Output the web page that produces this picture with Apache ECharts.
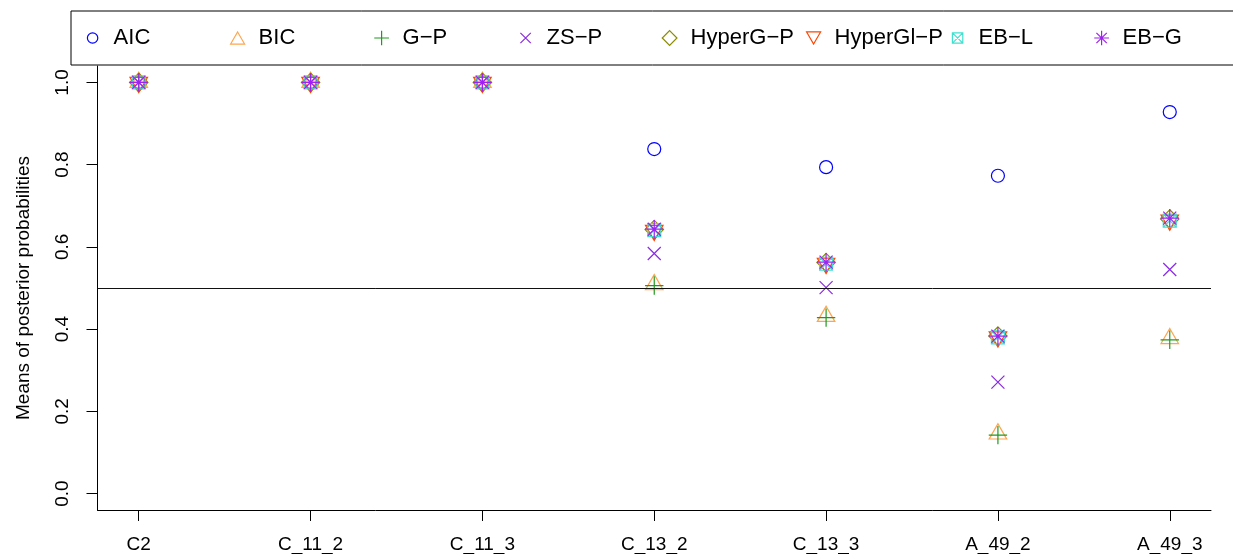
<!DOCTYPE html>
<html>
<head>
<meta charset="utf-8">
<script src="https://cdn.jsdelivr.net/npm/echarts@6/dist/echarts.min.js"></script>
<style>
  html, body { margin: 0; padding: 0; background: #fff; }
  #chart { width: 1233px; height: 554px; }
</style>
</head>
<body>
<div id="chart"></div>
<script>
// categories on the x axis
const categories = ['C2', 'C_11_2', 'C_11_3', 'C_13_2', 'C_13_3', 'A_49_2', 'A_49_3']
const yTicks = [0, 0.2, 0.4, 0.6, 0.8, 1.0]
const refLine = 0.5

// means of posterior probabilities per method
const aic      = [1, 1, 1, 0.838, 0.794, 0.773, 0.928]
const bic      = [1, 1, 1, 0.508, 0.431, 0.145, 0.377]
const gp       = [1, 1, 1, 0.506, 0.428, 0.142, 0.374]
const zsp      = [1, 1, 1, 0.584, 0.501, 0.271, 0.545]
const hyperGP  = [1, 1, 1, 0.642, 0.562, 0.383, 0.668]
const hyperGlP = [1, 1, 1, 0.640, 0.560, 0.381, 0.665]
const ebL      = [1, 1, 1, 0.641, 0.559, 0.380, 0.664]
const ebG      = [1, 1, 1, 0.643, 0.563, 0.383, 0.670]

const methods = ['AIC', 'BIC', 'G\u2212P', 'ZS\u2212P', 'HyperG\u2212P', 'HyperGl\u2212P', 'EB\u2212L', 'EB\u2212G']
const values = [aic, bic, gp, zsp, hyperGP, hyperGlP, ebL, ebG]

// R-like plotting characters (pch 1..8), unit = point radius
const R = 6.5
const S2 = Math.SQRT2
const pch = [
  { symbol: 'circle', size: [2 * R, 2 * R], offset: 0 },
  { symbol: 'path://M0,-1.5551L1.3468,0.7776L-1.3468,0.7776Z', size: [2.6936 * R, 2.3327 * R], offset: -0.3888 * R },
  { symbol: 'path://M-1.4142,0L1.4142,0M0,-1.4142L0,1.4142', size: [2 * S2 * R, 2 * S2 * R], offset: 0 },
  { symbol: 'path://M-1,-1L1,1M-1,1L1,-1', size: [2 * R, 2 * R], offset: 0 },
  { symbol: 'path://M0,-1.4142L1.4142,0L0,1.4142L-1.4142,0Z', size: [2 * S2 * R, 2 * S2 * R], offset: 0 },
  { symbol: 'path://M0,1.5551L1.3468,-0.7776L-1.3468,-0.7776Z', size: [2.6936 * R, 2.3327 * R], offset: 0.3888 * R },
  { symbol: 'path://M-1,-1L1,-1L1,1L-1,1ZM-1,-1L1,1M-1,1L1,-1', size: [2 * R, 2 * R], offset: 0 },
  { symbol: 'path://M-1,-1L1,1M-1,1L1,-1M-1.4142,0L1.4142,0M0,-1.4142L0,1.4142', size: [2 * S2 * R, 2 * S2 * R], offset: 0 },
]
const colors = ['#0000ff', '#ffa54f', '#1f9a1f', '#8a2be2', '#8b8b00', '#ff4500', '#40e0d0', '#a020f0']

const legendX = [92, 237, 381, 525, 669, 813, 957, 1101]
const legendScale = 0.8

const chart = echarts.init(document.getElementById('chart'))

const series = methods.map((name, k) => ({
  name,
  type: 'scatter',
  symbol: pch[k].symbol,
  symbolSize: pch[k].size,
  symbolOffset: [0, pch[k].offset],
  itemStyle: { color: 'transparent', borderColor: colors[k], borderWidth: 1.2, opacity: 1 },
  emphasis: { disabled: true },
  data: values[k].map((v, i) => [i + 1, v]),
}))

series.push({
  type: 'line',
  data: [],
  markLine: {
    silent: true,
    symbol: 'none',
    label: { show: false },
    lineStyle: { color: '#111', width: 1, type: 'solid' },
    data: [{ yAxis: refLine }],
  },
})

const legends = methods.map((name, k) => {
  const w = pch[k].size[0] * legendScale
  const h = pch[k].size[1] * legendScale
  return {
    left: legendX[k] - w / 2,
    top: 27,
    padding: 0,
    itemWidth: w,
    itemHeight: h,
    selectedMode: false,
    textStyle: { fontSize: 22, color: '#000', padding: [0, 0, 0, Math.max(0, 16 - w / 2)] },
    data: [{
      name,
      icon: pch[k].symbol,
      itemStyle: { color: 'transparent', borderColor: colors[k], borderWidth: 1.2 },
    }],
  }
})

const option = {
  animation: false,
  textStyle: { fontFamily: 'Liberation Sans, Arial, sans-serif' },
  grid: { left: 97.5, right: 22, top: 66, bottom: 42 },
  graphic: [{
    type: 'rect',
    shape: { x: 71, y: 11, width: 1200, height: 54 },
    style: { fill: 'none', stroke: '#000', lineWidth: 1 },
    silent: true,
  }],
  legend: legends,
  xAxis: {
    type: 'value',
    min: 0.76,
    max: 7.24,
    splitLine: { show: false },
    axisLine: { onZero: false, lineStyle: { color: '#000', width: 1 } },
    axisTick: { length: 11, lineStyle: { color: '#000' }, customValues: categories.map((c, i) => i + 1) },
    axisLabel: {
      color: '#000',
      fontSize: 19,
      margin: 25,
      customValues: categories.map((c, i) => i + 1),
      formatter: (v) => categories[Math.round(v) - 1] || '',
    },
  },
  yAxis: {
    type: 'value',
    min: -0.04,
    max: 1.04,
    name: 'Means of posterior probabilities',
    nameLocation: 'middle',
    nameGap: 64,
    nameTextStyle: { fontSize: 19, color: '#000' },
    splitLine: { show: false },
    axisLine: { show: true, onZero: false, lineStyle: { color: '#000', width: 1 } },
    axisTick: { show: true, length: 11, lineStyle: { color: '#000' }, customValues: yTicks },
    axisLabel: {
      color: '#000',
      fontSize: 19,
      rotate: 90,
      margin: 25,
      customValues: yTicks,
      formatter: (v) => v.toFixed(1),
    },
  },
  series,
}

chart.setOption(option)
</script>
</body>
</html>
